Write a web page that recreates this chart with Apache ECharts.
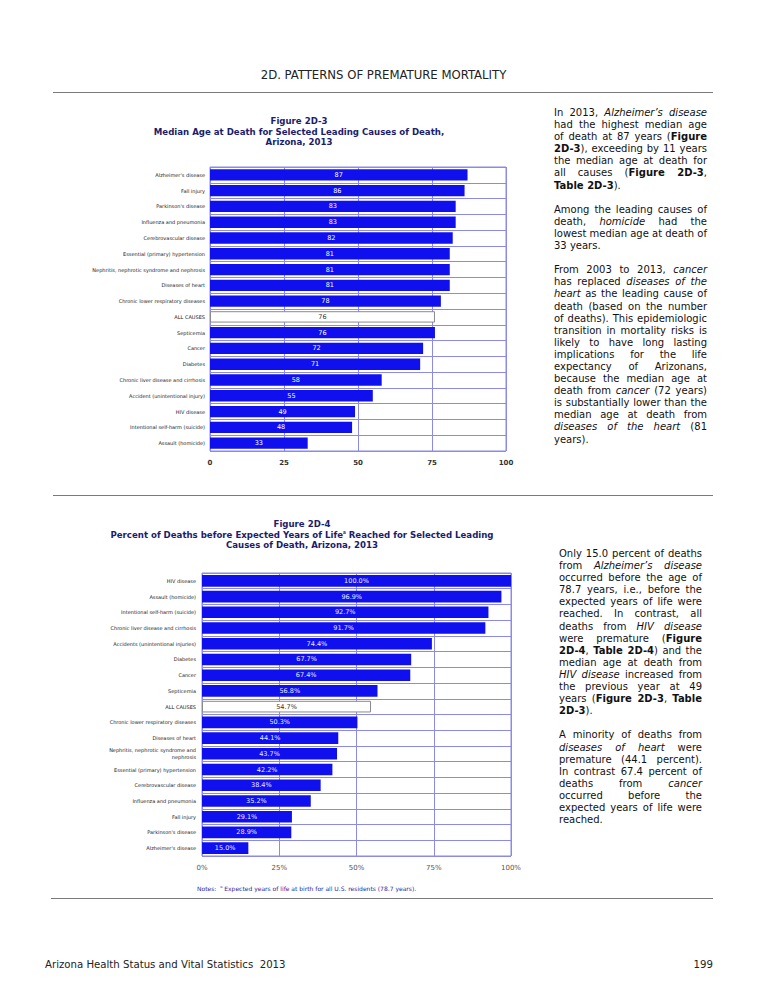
<!DOCTYPE html>
<html>
<head>
<meta charset="utf-8">
<script src="https://cdn.jsdelivr.net/npm/echarts@6/dist/echarts.min.js"></script>
<style>
  html, body { margin:0; padding:0; background:#fff; }
  #page { position:relative; width:765px; height:989px; overflow:hidden; }
  #chart { position:absolute; left:0; top:0; width:765px; height:989px; }
  .txt { position:absolute; font-family:"DejaVu Sans", Verdana, sans-serif; font-size:10px; line-height:12.1px; color:#111; }
  .txt .l { height:12.1px; white-space:nowrap; text-align:justify; text-align-last:justify; }
  .txt .e { height:12.1px; white-space:nowrap; text-align:left; }
  .txt .gap { height:12.1px; }
  .hdr { position:absolute; font-family:"DejaVu Sans Condensed","DejaVu Sans",sans-serif; font-size:11.3px; color:#222; }
  .rule { position:absolute; height:0; border-top:1.5px solid #7a7a7a; }
</style>
</head>
<body>
<div id="page">
  <div id="chart"></div>
  <div class="hdr" style="left:0;width:767px;top:67px;text-align:center;font-size:13px;">2D. PATTERNS OF PREMATURE MORTALITY</div>
  <div class="rule" style="left:53px;width:660px;top:92px;"></div>
  <div class="rule" style="left:53px;width:660px;top:495px;"></div>
  <div class="rule" style="left:51px;width:662px;top:898px;"></div>
  <div class="txt" style="left:554px;width:153px;top:107px;">
    <div class="l">In 2013, <i>Alzheimer’s disease</i></div>
    <div class="l">had the highest median age</div>
    <div class="l">of death at 87 years (<b>Figure</b></div>
    <div class="l"><b>2D-3</b>), exceeding by 11 years</div>
    <div class="l">the median age at death for</div>
    <div class="l">all causes (<b>Figure 2D-3</b>,</div>
    <div class="e"><b>Table 2D-3</b>).</div>
    <div class="gap"></div>
    <div class="l">Among the leading causes of</div>
    <div class="l">death, <i>homicide</i> had the</div>
    <div class="l">lowest median age at death of</div>
    <div class="e">33 years.</div>
    <div class="gap"></div>
    <div class="l">From 2003 to 2013, <i>cancer</i></div>
    <div class="l">has replaced <i>diseases of the</i></div>
    <div class="l"><i>heart</i> as the leading cause of</div>
    <div class="l">death (based on the number</div>
    <div class="l">of deaths). This epidemiologic</div>
    <div class="l">transition in mortality risks is</div>
    <div class="l">likely to have long lasting</div>
    <div class="l">implications for the life</div>
    <div class="l">expectancy of Arizonans,</div>
    <div class="l">because the median age at</div>
    <div class="l">death from <i>cancer</i> (72 years)</div>
    <div class="l">is substantially lower than the</div>
    <div class="l">median age at death from</div>
    <div class="l"><i>diseases of the heart</i> (81</div>
    <div class="e">years).</div>
  </div>
  <div class="txt" style="left:559px;width:143px;top:548px;">
    <div class="l">Only 15.0 percent of deaths</div>
    <div class="l">from <i>Alzheimer’s disease</i></div>
    <div class="l">occurred before the age of</div>
    <div class="l">78.7 years, i.e., before the</div>
    <div class="l">expected years of life were</div>
    <div class="l">reached. In contrast, all</div>
    <div class="l">deaths from <i>HIV disease</i></div>
    <div class="l">were premature (<b>Figure</b></div>
    <div class="l"><b>2D-4</b>, <b>Table 2D-4</b>) and the</div>
    <div class="l">median age at death from</div>
    <div class="l"><i>HIV disease</i> increased from</div>
    <div class="l">the previous year at 49</div>
    <div class="l">years (<b>Figure 2D-3</b>, <b>Table</b></div>
    <div class="e"><b>2D-3</b>).</div>
    <div class="gap"></div>
    <div class="l">A minority of deaths from</div>
    <div class="l"><i>diseases of heart</i> were</div>
    <div class="l">premature (44.1 percent).</div>
    <div class="l">In contrast 67.4 percent of</div>
    <div class="l">deaths from <i>cancer</i></div>
    <div class="l">occurred before the</div>
    <div class="l">expected years of life were</div>
    <div class="e">reached.</div>
  </div>
  <div class="hdr" style="left:45px;top:958px;">Arizona Health Status and Vital Statistics&nbsp; 2013</div>
  <div class="hdr" style="right:52px;top:958px;">199</div>
</div>
<script>
// ---- Figure 2D-3 data ----
const causes1 = ["Alzheimer's disease","Fall injury","Parkinson's disease","Influenza and pneumonia","Cerebrovascular disease","Essential (primary) hypertension","Nephritis, nephrotic syndrome and nephrosis","Diseases of heart","Chronic lower respiratory diseases","ALL CAUSES","Septicemia","Cancer","Diabetes","Chronic liver disease and cirrhosis","Accident (unintentional injury)","HIV disease","Intentional self-harm (suicide)","Assault (homicide)"];
const medianAge = [87,86,83,83,82,81,81,81,78,76,76,72,71,58,55,49,48,33];
const ticks1 = ["0","25","50","75","100"];

// ---- Figure 2D-4 data ----
const causes2 = ["HIV disease","Assault (homicide)","Intentional self-harm (suicide)","Chronic liver disease and cirrhosis","Accidents (unintentional injuries)","Diabetes","Cancer","Septicemia","ALL CAUSES","Chronic lower respiratory diseases","Diseases of heart","Nephritis, nephrotic syndrome and nephrosis","Essential (primary) hypertension","Cerebrovascular disease","Influenza and pneumonia","Fall injury","Parkinson's disease","Alzheimer's disease"];
const pctPremature = [100.0,96.9,92.7,91.7,74.4,67.7,67.4,56.8,54.7,50.3,44.1,43.7,42.2,38.4,35.2,29.1,28.9,15.0];
const ticks2 = ["0%","25%","50%","75%","100%"];

const FONT = '"DejaVu Sans", Verdana, sans-serif';
const BAR = '#1010ee';
const GRIDC = '#8b8be6';
const NAVY = '#1c1c6c';

function mkData(vals, cats) {
  return vals.map((v, i) => cats[i] === 'ALL CAUSES'
    ? { value: v, itemStyle: { color: '#ffffff', borderColor: '#8a8a8a', borderWidth: 1 }, label: { color: '#333' } }
    : { value: v });
}

const chart = echarts.init(document.getElementById('chart'), null, { renderer: 'svg' });
chart.setOption({
  animation: false,
  textStyle: { fontFamily: FONT },
  grid: [
    { left: 210, top: 167, width: 296, height: 284, show: true, borderColor: GRIDC, borderWidth: 1, backgroundColor: 'transparent' },
    { left: 202, top: 573, width: 309, height: 283, show: true, borderColor: GRIDC, borderWidth: 1, backgroundColor: 'transparent' }
  ],
  xAxis: [
    { gridIndex: 0, type: 'value', min: 0, max: 100, interval: 25,
      axisLine: { show: false }, axisTick: { show: false },
      splitLine: { show: true, lineStyle: { color: GRIDC, width: 1 } },
      axisLabel: { margin: 8, fontSize: 7, fontWeight: 'bold', color: '#333', fontFamily: FONT,
        formatter: (v) => ticks1[Math.round(v / 25)] } },
    { gridIndex: 1, type: 'value', min: 0, max: 100, interval: 25,
      axisLine: { show: false }, axisTick: { show: false },
      splitLine: { show: true, lineStyle: { color: GRIDC, width: 1 } },
      axisLabel: { margin: 8, fontSize: 7, color: '#555', fontFamily: FONT,
        formatter: (v) => ticks2[Math.round(v / 25)] } }
  ],
  yAxis: [
    { gridIndex: 0, type: 'category', inverse: true, data: causes1,
      axisLine: { show: false }, axisTick: { show: false },
      splitLine: { show: true, lineStyle: { color: GRIDC, width: 1 } },
      axisLabel: { margin: 5, fontSize: 5, color: '#1a1a1a', fontFamily: FONT } },
    { gridIndex: 1, type: 'category', inverse: true, data: causes2,
      axisLine: { show: false }, axisTick: { show: false },
      splitLine: { show: true, lineStyle: { color: GRIDC, width: 1 } },
      axisLabel: { margin: 6, fontSize: 5, lineHeight: 7, color: '#1a1a1a', fontFamily: FONT,
        formatter: (s) => s.startsWith('Nephritis') ? 'Nephritis, nephrotic syndrome and\nnephrosis' : s } }
  ],
  series: [
    { type: 'bar', xAxisIndex: 0, yAxisIndex: 0, data: mkData(medianAge, causes1),
      barCategoryGap: '28%', itemStyle: { color: BAR },
      label: { show: true, position: 'inside', color: '#fff', fontSize: 6.5, fontFamily: FONT } },
    { type: 'bar', xAxisIndex: 1, yAxisIndex: 1, data: mkData(pctPremature, causes2),
      barCategoryGap: '26%', itemStyle: { color: BAR },
      label: { show: true, position: 'inside', color: '#e8e8ff', fontSize: 6.5, fontFamily: FONT,
        formatter: (p) => p.value.toFixed(1) + '%' } }
  ],
  graphic: [
    { type: 'text', style: {
      text: 'Figure 2D-3\nMedian Age at Death for Selected Leading Causes of Death,\nArizona, 2013',
      x: 299, y: 116, align: 'center', verticalAlign: 'top', lineHeight: 10.5,
      font: 'bold 8.6px ' + FONT, fill: NAVY } },
    { type: 'text', style: {
      text: 'Figure 2D-4\nPercent of Deaths before Expected Years of Life{sup|a} Reached for Selected Leading\nCauses of Death, Arizona, 2013',
      x: 302, y: 519, align: 'center', verticalAlign: 'top', lineHeight: 10.5,
      font: 'bold 8.6px ' + FONT, fill: NAVY,
      rich: { sup: { fontSize: 5, fontWeight: 'bold', fill: NAVY, verticalAlign: 'top', lineHeight: 10.5, padding: [0, 0, 4, 0] } } } },
    { type: 'text', style: {
      text: 'Notes:  {sup|a} Expected years of life at birth for all U.S. residents (78.7 years).',
      x: 197, y: 888, align: 'left', verticalAlign: 'middle',
      font: '6px ' + FONT, fill: '#2a2aa0',
      rich: { sup: { fontSize: 4, fill: '#2a2aa0', padding: [0, 0, 3, 0] } } } }
  ]
});
</script>
</body>
</html>
